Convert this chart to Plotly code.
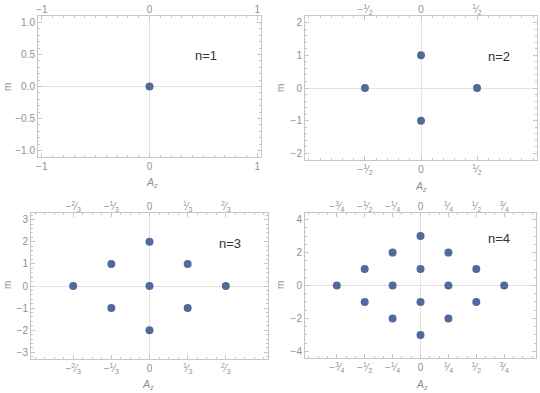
import plotly.graph_objects as go

# ---- data ----
az_n1 = [0]
m_n1 = [0]
az_n2 = [-1/2, 0, 0, 1/2]
m_n2 = [0, 1, -1, 0]
az_n3 = [-2/3, -1/3, -1/3, 0, 0, 0, 1/3, 1/3, 2/3]
m_n3 = [0, 1, -1, 2, 0, -2, 1, -1, 0]
az_n4 = [-3/4, -1/2, -1/2, -1/4, -1/4, -1/4, 0, 0, 0, 0, 1/4, 1/4, 1/4, 1/2, 1/2, 3/4]
m_n4 = [0, 1, -1, 2, 0, -2, 3, 1, -1, -3, 2, 0, -2, 1, -1, 0]

def frac(sign, num, den):
    return f"{sign}<sup>{num}</sup>⁄<sub>{den}</sub>"

xt_n1 = [-1, 0, 1]
xl_n1 = ["−1", "0", "1"]
xt_n2 = [-1/2, 0, 1/2]
xl_n2 = [frac("−", 1, 2), "0", frac("", 1, 2)]
xt_n3 = [-2/3, -1/3, 0, 1/3, 2/3]
xl_n3 = [frac("−", 2, 3), frac("−", 1, 3), "0", frac("", 1, 3), frac("", 2, 3)]
xt_n4 = [-3/4, -1/2, -1/4, 0, 1/4, 1/2, 3/4]
xl_n4 = [frac("−", 3, 4), frac("−", 1, 2), frac("−", 1, 4), "0",
         frac("", 1, 4), frac("", 1, 2), frac("", 3, 4)]

yt_n1 = [-1, -0.5, 0, 0.5, 1]
yl_n1 = ["−1.0", "−0.5", "0.0", "0.5", "1.0"]
yt_n2 = [-2, -1, 0, 1, 2]
yl_n2 = ["−2", "−1", "0", "1", "2"]
yt_n3 = [-3, -2, -1, 0, 1, 2, 3]
yl_n3 = ["−3", "−2", "−1", "0", "1", "2", "3"]
yt_n4 = [-4, -2, 0, 2, 4]
yl_n4 = ["−4", "−2", "0", "2", "4"]

labels = ["n=1", "n=2", "n=3", "n=4"]
label_pos = [(0.52, 0.48), (0.70, 0.96), (0.70, 1.9), (0.70, 2.84)]

W, H = 540, 393
panels = [
    dict(az=az_n1, m=m_n1, xt=xt_n1, xl=xl_n1, yt=yt_n1, yl=yl_n1, n=1, ymin=0.1,
         px=(38, 261), py=(16, 157), xtitle=(151.7, 183), ytitle=(7, 87)),
    dict(az=az_n2, m=m_n2, xt=xt_n2, xl=xl_n2, yt=yt_n2, yl=yl_n2, n=2, ymin=0.2,
         px=(305, 537), py=(16, 160), xtitle=(421, 187), ytitle=(280, 88)),
    dict(az=az_n3, m=m_n3, xt=xt_n3, xl=xl_n3, yt=yt_n3, yl=yl_n3, n=3, ymin=0.2,
         px=(31, 268), py=(213, 359), xtitle=(147.7, 385), ytitle=(7, 285)),
    dict(az=az_n4, m=m_n4, xt=xt_n4, xl=xl_n4, yt=yt_n4, yl=yl_n4, n=4, ymin=0.5,
         px=(305, 536), py=(213, 358), xtitle=(421.7, 385), ytitle=(280, 285)),
]

FONT = "Liberation Sans, Arial, sans-serif"
TICKC = "#8f8f8f"
FRAMEC = "#c6c6c6"
DOT = "#52699b"

fig = go.Figure()
layout = dict(
    width=W, height=H, autosize=False,
    margin=dict(l=0, r=0, t=0, b=0, autoexpand=False),
    paper_bgcolor="white", plot_bgcolor="white",
    showlegend=False,
    font=dict(family=FONT, size=9, color=TICKC),
)
annotations = []

for i, p in enumerate(panels):
    xb = 2 * i + 1   # bottom x axis index
    xtp = 2 * i + 2  # top x axis index
    yi = i + 1
    xname = "x" if xb == 1 else f"x{xb}"
    xtname = f"x{xtp}"
    yname = "y" if yi == 1 else f"y{yi}"
    xr = [-1.035, 1.035]
    yr = [-1.1 * p["n"], 1.1 * p["n"]]
    dx = [p["px"][0] / W, p["px"][1] / W]
    dy = [1 - p["py"][1] / H, 1 - p["py"][0] / H]

    fig.add_trace(go.Scatter(x=p["az"], y=p["m"], mode="markers",
                             marker=dict(size=8, color=DOT),
                             xaxis=xname, yaxis=yname, hoverinfo="skip"))
    # invisible trace to attach top axis
    fig.add_trace(go.Scatter(x=p["az"], y=p["m"], mode="markers",
                             marker=dict(size=8, opacity=0),
                             xaxis=xtname, yaxis=yname, hoverinfo="skip"))

    xkey = "xaxis" if xb == 1 else f"xaxis{xb}"
    ykey = "yaxis" if yi == 1 else f"yaxis{yi}"
    layout[xkey] = dict(
        domain=dx, anchor=yname, range=xr, automargin=False,
        tickmode="array", tickvals=p["xt"], ticktext=p["xl"],
        showline=True, linecolor=FRAMEC, linewidth=1, mirror="ticks",
        ticks="inside", ticklen=4, tickcolor=FRAMEC, tickwidth=1,
        minor=dict(ticks="inside", ticklen=2, tickcolor=FRAMEC, dtick=1/12 if p["n"] in (3, 4) else 0.1, tick0=0, showgrid=False),
        showgrid=False, zeroline=True, zerolinecolor="#e3e3e3", zerolinewidth=1,
        tickfont=dict(size=10, color=TICKC, family=FONT),
        fixedrange=True,
    )
    layout[f"xaxis{xtp}"] = dict(
        domain=dx, anchor=yname, overlaying=xname, side="top", range=xr, automargin=False,
        tickmode="array", tickvals=p["xt"], ticktext=p["xl"],
        showline=False, ticks="", showgrid=False, zeroline=False,
        tickfont=dict(size=10, color=TICKC, family=FONT),
        fixedrange=True,
    )
    layout[ykey] = dict(
        domain=dy, anchor=xname, range=yr, automargin=False,
        tickmode="array", tickvals=p["yt"], ticktext=p["yl"],
        showline=True, linecolor=FRAMEC, linewidth=1, mirror="ticks",
        ticks="inside", ticklen=4, tickcolor=FRAMEC, tickwidth=1,
        minor=dict(ticks="inside", ticklen=2, tickcolor=FRAMEC, dtick=p["ymin"], tick0=0, showgrid=False),
        showgrid=False, zeroline=True, zerolinecolor="#e3e3e3", zerolinewidth=1,
        tickfont=dict(size=10, color=TICKC, family=FONT),
        fixedrange=True,
    )
    lx, ly = label_pos[i]
    annotations.append(dict(x=lx, y=ly, xref=xname, yref=yname, text=labels[i],
                            showarrow=False, font=dict(size=13, color="#333333", family=FONT)))
    tx, ty = p["xtitle"]
    annotations.append(dict(x=tx / W, y=1 - ty / H, xref="paper", yref="paper",
                            text="<i>A</i><sub><i>z</i></sub>", showarrow=False,
                            xanchor="center", yanchor="middle",
                            font=dict(size=10.5, color=TICKC, family=FONT)))
    mx, my = p["ytitle"]
    annotations.append(dict(x=mx / W, y=1 - my / H, xref="paper", yref="paper",
                            text="m", showarrow=False, textangle=-90,
                            xanchor="center", yanchor="middle",
                            font=dict(size=10, color=TICKC, family=FONT)))

layout["annotations"] = annotations
fig.update_layout(**layout)
fig.write_html("out.html", config={"displayModeBar": False},
               post_script="document.body.style.margin='0px';document.body.style.overflow='hidden';")
